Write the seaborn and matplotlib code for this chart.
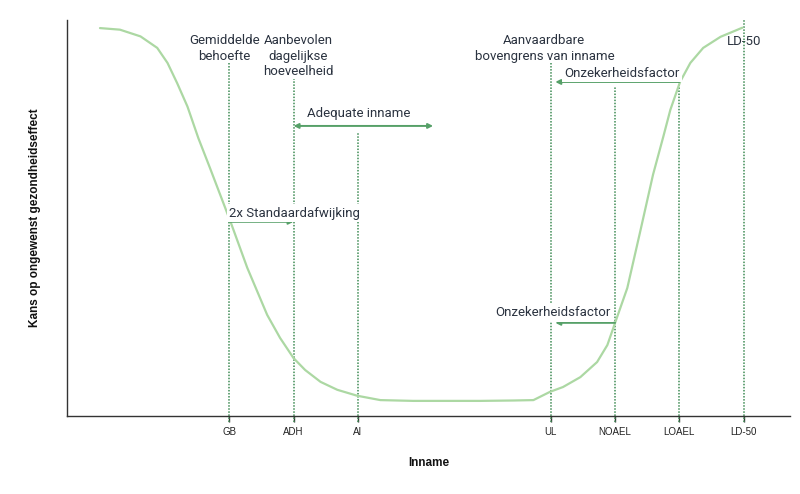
import matplotlib
matplotlib.use("Agg")
import matplotlib.pyplot as plt
import pandas as pd
import seaborn as sns

# curve: kans op ongewenst effect vs inname
curve_x = [-2.01, -1.70, -1.38, -1.12, -0.96, -0.81, -0.65, -0.48, -0.30, -0.14, 0.02,
           0.28, 0.59, 0.79, 1.00, 1.18, 1.42, 1.68, 1.99, 2.35, 2.86, 3.39, 3.90, 4.42,
           4.73, 4.99, 5.19, 5.46, 5.72, 5.88, 6.00, 6.19, 6.39, 6.59, 6.75, 6.86, 7.01,
           7.17, 7.37, 7.64, 7.98]
curve_y = [97.9, 97.5, 95.8, 92.9, 89.1, 84.0, 78.1, 70.1, 62.6, 55.8, 49.0,
           37.4, 25.5, 19.7, 14.6, 11.6, 8.6, 6.6, 5.1, 4.0, 3.8, 3.8, 3.8, 3.9,
           4.0, 6.1, 7.3, 9.8, 13.6, 17.9, 23.5, 32.3, 46.5, 60.9, 70.5, 77.3, 84.3,
           89.1, 92.9, 95.7, 98.0]

# markers on the x-axis
tick_pos = [0, 1, 2, 5, 6, 7, 8]
tick_labels = ["GB", "ADH", "AI", "UL", "NOAEL", "LOAEL", "LD-50"]
line_tops = [89.1, 85.0, 71.5, 89.1, 83.0, 84.3, 100.0]

CURVE = "#acd8a3"
DOT = "#3f8c55"
ARROW = "#56a068"
TXT = "#2b3340"

sns.set_theme(style="white")
plt.rcParams["font.family"] = ["Roboto", "DejaVu Sans"]

fig = plt.figure(figsize=(8, 4.94), dpi=100)
ax = fig.add_axes([0.084, 0.158, 0.9035, 0.802])

df = pd.DataFrame({"x": curve_x, "y": curve_y})
sns.lineplot(data=df, x="x", y="y", ax=ax, color=CURVE, linewidth=1.6, zorder=2)

ax.vlines(tick_pos, -1.5, line_tops, colors=DOT, linestyles=(0, (1, 1)),
          linewidth=1.1, zorder=1, clip_on=False)

ax.set_xlim(-2.52, 8.72)
ax.set_ylim(0, 100)
ax.set_xticks(tick_pos)
ax.set_xticklabels(tick_labels, family=["Liberation Sans", "DejaVu Sans"], fontsize=7, color="#222222")
ax.set_yticks([])
ax.tick_params(axis="x", direction="out", length=4, width=1, color="#333333", pad=4, bottom=True)
for side in ["top", "right"]:
    ax.spines[side].set_visible(False)
for side in ["left", "bottom"]:
    ax.spines[side].set_color("#333333")
    ax.spines[side].set_linewidth(1)

ax.set_xlabel("Inname", family=["Liberation Sans", "DejaVu Sans"], fontsize=8.5,
              fontweight="bold", labelpad=14, color="#111111")
ax.set_ylabel("Kans op ongewenst gezondheidseffect", family=["Liberation Sans", "DejaVu Sans"],
              fontsize=8.5, fontweight="bold", labelpad=19, color="#111111")

txt = dict(color=TXT, fontsize=9.5, ha="center", va="center", linespacing=1.25, zorder=5)
box = dict(facecolor="white", edgecolor="none", pad=1.5)

ax.text(-0.07, 92.8, "Gemiddelde\nbehoefte", **txt)
ax.text(1.07, 90.8, "Aanbevolen\ndagelijkse\nhoeveelheid", **txt)
ax.text(4.90, 92.8, "Aanvaardbare\nbovengrens van inname", **txt)
ax.text(8.0, 94.5, "LD-50", **{**txt, "zorder": 0})

# Adequate inname
ax.annotate("", xy=(1.0, 73.2), xytext=(3.17, 73.2),
            arrowprops=dict(arrowstyle="<|-|>", color=ARROW, lw=1.4, mutation_scale=7,
                            shrinkA=0, shrinkB=0), zorder=4)
ax.text(2.01, 76.3, "Adequate inname", **txt)

# 2x standaardafwijking
ax.annotate("", xy=(1.0, 49.0), xytext=(0.0, 49.0),
            arrowprops=dict(arrowstyle="-|>", color=ARROW, lw=1.4, mutation_scale=7,
                            shrinkA=0, shrinkB=0), zorder=4)
ax.text(0.0, 51.2, "2x Standaardafwijking", bbox=box, **{**txt, "ha": "left"})

# onzekerheidsfactor (boven)
ax.annotate("", xy=(5.07, 84.3), xytext=(7.0, 84.3),
            arrowprops=dict(arrowstyle="-|>", color=ARROW, lw=1.4, mutation_scale=7,
                            shrinkA=0, shrinkB=0), zorder=4)
ax.text(6.11, 86.5, "Onzekerheidsfactor", bbox=box, **txt)

# onzekerheidsfactor (onder)
ax.annotate("", xy=(5.07, 23.5), xytext=(6.0, 23.5),
            arrowprops=dict(arrowstyle="-|>", color=ARROW, lw=1.4, mutation_scale=7,
                            shrinkA=0, shrinkB=0), zorder=4)
ax.text(5.03, 26.0, "Onzekerheidsfactor", bbox=box, **txt)

fig.savefig("out.png", dpi=100)
